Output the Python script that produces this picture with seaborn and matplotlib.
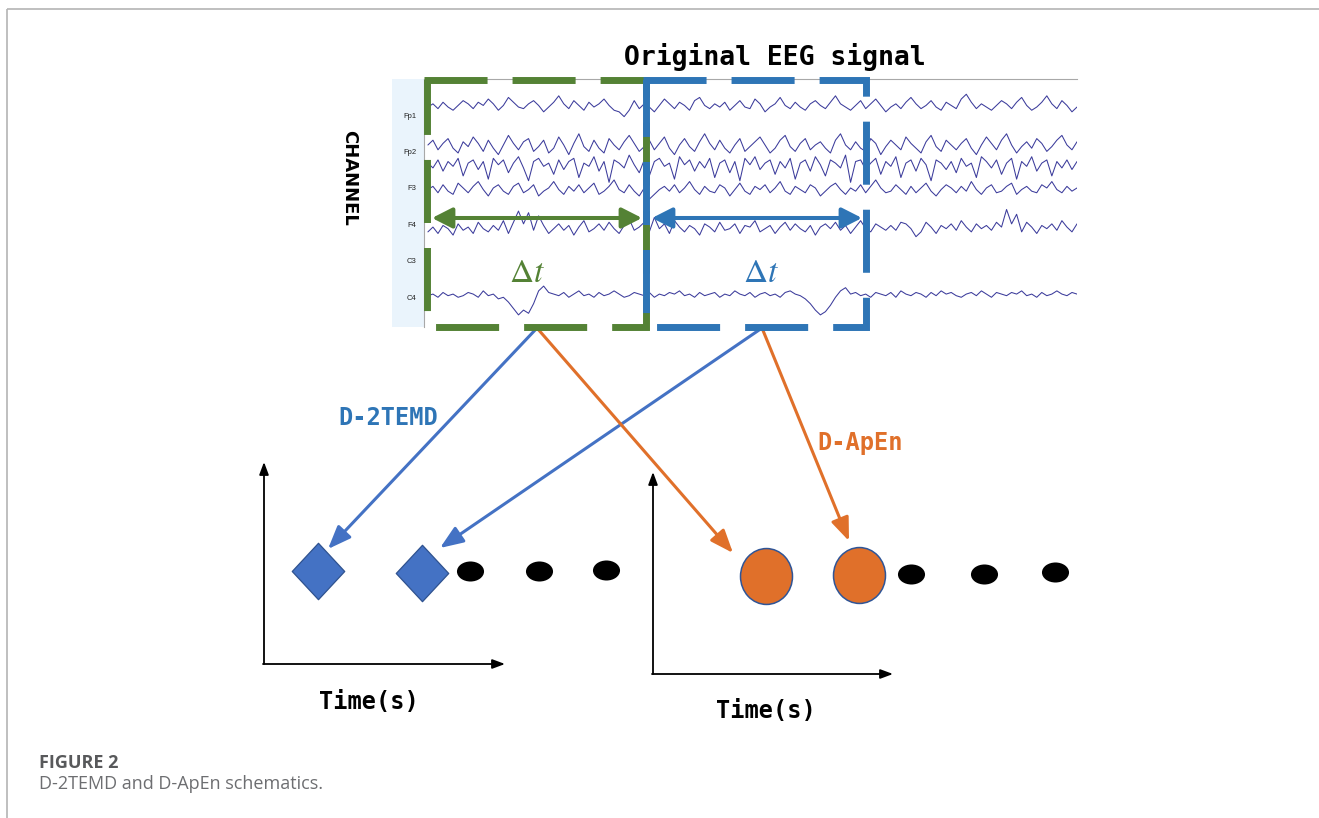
import numpy as np
import pandas as pd
import matplotlib
matplotlib.use("Agg")
import matplotlib.pyplot as plt
import seaborn as sns
from matplotlib.path import Path
from matplotlib.transforms import Affine2D
from matplotlib.lines import Line2D
from matplotlib.patches import Rectangle

# ------------------------------------------------------------------ data
channels = ["Fp1", "Fp2", "F3", "F4", "C3", "C4"]

eeg_fp1 = [0, 2, -1, 3, 0, -2, 1, 4, 2, -1, 3, 1, 5, 2, -2, 1, 6, 3, 0, -1,
           2, 4, 1, -3, 0, 3, 7, 2, -1, 4, 1, -2, 3, 0, 2, 5, 1, -2, -3, -6,
           -2, 4, -1, 2, 0, -3, 1, 5, 2, -1, 3, 1, -2, 4, 6, 1, -1, 2, 0, 3,
           -2, 1, 4, 0, -1, 5, 2, -3, 0, 2, 6, 1, -1, 3, 0, -2, 2, 4, 1, -1,
           3, 7, 2, 0, -2, 1, 4, -1, 2, 5, 1, -3, 0, 2, -1, 3, 6, 2, -1, 1,
           4, 0, -2, 3, 1, -1, 5, 8, 3, -1, 2, 0, -2, 1, 4, 2, -1, 3, 6, 1,
           -2, 0, 3, 7, 2, -1, 4, 1, -3, 0]
eeg_fp2a = [2, 5, -1, 3, 6, 0, -3, 4, 1, 7, 3, -2, 5, 0, -4, 2, 8, 3, -1, 4,
            6, -2, 1, 5, -3, 0, 7, 2, -4, 3, 9, 1, -2, 5, 0, -3, 6, 2, -1, 4,
            8, 3, -2, 1, 5, -1, 3, 7, 0, -4, 2, 6, 1, -2, 4, 9, 3, -1, 5, 0,
            -3, 2, 6, -2, 1, 4, 7, 2, -3, 0, 5, 8, 1, -2, 3, 6, -1, 2, 4, 0,
            -3, 5, 9, 2, -1, 4, 0, -2, 6, 3, -4, 1, 5, 2, -1, 7, 3, 0, -3, 4,
            8, 1, -2, 5, 2, -1, 3, 6, 0, -4, 2, 7, 3, -1, 5, 9, 2, -3, 1, 4,
            0, 6, 3, -2, 1, 5, 8, 2, -1, 4]
eeg_fp2b = [0, -3, 2, -5, 1, -2, 3, -8, 0, 2, -4, 1, -10, 3, -1, 2, -6, 0, 4, -3,
            -11, 1, 3, -2, 0, -7, 2, -4, 1, 3, -9, 0, -2, 4, -5, 1, -12, 2, 0, -3,
            5, -1, -6, 2, -8, 1, 3, -2, 0, -10, 4, -1, 2, -5, 1, -3, 3, -9, 0, 2,
            -6, 1, -11, 3, -1, 4, -4, 0, 2, -7, 1, -3, 3, -10, 0, 2, -5, 4, -1, -8,
            2, 0, -3, 5, -12, 1, 2, -4, 0, 3, -7, 1, -2, 4, -9, 0, 2, -5, 3, -1,
            -11, 2, 0, -4, 1, -6, 3, -2, 0, -9, 4, 1, -3, 2, -7, 0, 3, -10, 1, -2,
            4, -5, 0, 2, -8, 1, -3, 2, -4, 1]
eeg_f3 = [1, 3, -1, 4, 0, -2, 5, 2, -1, 3, 6, 1, -3, 2, 4, 0, -2, 3, 5, -1,
          1, 4, -3, 0, 2, 6, 1, -2, 3, 0, 4, -1, 2, 5, -2, 0, 3, 7, 1, -1,
          4, 0, -3, 2, -5, -2, 1, 3, 0, 4, -1, 2, 6, 1, -2, 3, 0, -1, 4, 2,
          -3, 1, 5, 0, -2, 3, 1, 4, -1, 2, 6, 0, -2, 3, 1, -1, 4, 2, -3, 0,
          3, 5, 1, -2, 2, 0, 4, -1, 3, 7, 2, -1, 0, 4, 1, -2, 3, -1, 2, 5,
          0, -3, 1, 4, 2, -1, 3, 0, 6, 1, -2, 2, 4, -1, 0, 3, 5, -2, 1, 3,
          0, -1, 4, 2, 6, 1, -1, 3, 0, 2]
eeg_f4 = [-2, 1, -3, 2, 0, -4, 3, -1, 1, -3, 4, 0, -2, 2, -1, 5, -3,
          4, 11, 3, 10, -1, 8, 2,
          -3, 0, 3, -1, 2, -4, 1, 5, -2, 0, 3, -1, 4, 0, -3, 2, 6, -1, 1, 4,
          -2, 7, 0, 3, -3, 5, 1, -2, 2, 0, -4, 3, 1, -2, 4, -1, 0, 3, -3, 2,
          1, 5, -2, 0, 2, -3, 1, 4, -1, 3, 0, -2, 2, -4, 1, 3, 0, 4, -1, 2,
          -3, 1, 5, 0, -2, 3, 1, -1, 2, -1, 4, 3, 0, -5, -2, 4, 1, -3, 2, 0,
          3, -1, 5, 1, -2, 3, 0,
          2, -1, 4, 1, 12, 3, 9, -2, 4, 1, -3, 2, 0, 3, -1, 5, 1, -2, 3]
eeg_c4 = [0, 1, -1, 2, 0, 1, -1, 0, 2, 1, -1, 3, 0, 1, -2,
          -1, -4, -8, -12, -9, -11, -5, 3, 6, 2,
          1, 0, 2, -1, 1, 3, 0, 1, -1, 2, 0, 1, 3, 1, -1, 0, 2, 1, 0, 2,
          -1, 1, 0, 2, 1, 3, 0, 1, -1, 2, 0, 1, 2, -1, 1, 0, 3, 1, 0, 2,
          -1, 1, 2, 0, 1, -1, 2, 3, 1, 0,
          -2, -5, -9, -12, -10, -6, -1, 3, 5, 1,
          2, 0, 1, -1, 2, 1, 0, 2, -1, 3, 1, 0, 2, 1, -1, 2, 0, 3, 1, 2,
          0, -1, 1, 2, 0, 3, 1, -1, 2, 1, 0, 2, 1, 3, 0, 1, -1, 2, 0, 1,
          3, 1, 0, 2, 1]

trace_names = ["Fp1", "Fp2 a", "Fp2 b", "F3", "F4", "C4"]
trace_values = [eeg_fp1, eeg_fp2a, eeg_fp2b, eeg_f3, eeg_f4, eeg_c4]

title_text = "Original EEG signal"
window_text = r"$\Delta t$"
method_names = ["D-2TEMD", "D-ApEn"]
time_label = "Time(s)"
caption_head = "FIGURE 2"
caption_body = "D-2TEMD and D-ApEn schematics."

# lower-left panel (D-2TEMD results along time)
temd_time = [1.08, 3.16]
temd_value = [1.86, 1.82]
temd_more_time = [4.12, 5.50, 6.84]
temd_more_value = [1.86, 1.86, 1.88]
# lower-right panel (D-ApEn results along time)
apen_time = [2.26, 4.12]
apen_value = [1.96, 1.98]
apen_more_time = [5.16, 6.62, 8.04]
apen_more_value = [2.00, 2.00, 2.04]

# ------------------------------------------------------------------ style
sns.set_theme(style="white")
plt.rcParams["font.family"] = ["DejaVu Sans"]

GREEN = "#548235"
BLUE_BOX = "#2e75b6"
BLUE = "#4472c4"
ORANGE = "#e0702a"
TRACE = "#3b3b9b"

W, H = 1319, 818
fig = plt.figure(figsize=(W / 100, H / 100), dpi=100)
fig.patch.set_facecolor("white")


def px_axes(x0, y0, x1, y1):
    return fig.add_axes([x0 / W, 1 - y1 / H, (x1 - x0) / W, (y1 - y0) / H])


# background layer
bg = px_axes(0, 0, W, H)
bg.set_xlim(0, W)
bg.set_ylim(H, 0)
bg.axis("off")
bg.set_zorder(0)
bg.plot([7, W], [9, 9], color="#b4b4b4", lw=1.2, solid_capstyle="butt")
bg.plot([7, 7], [9, H], color="#b4b4b4", lw=1.2, solid_capstyle="butt")
bg.add_patch(Rectangle((392, 79), 32, 248, facecolor="#eaf4fc", edgecolor="none"))

# ------------------------------------------------------------------ EEG panel
eeg = px_axes(424, 79, 1077, 327)
eeg.set_zorder(1)
eeg.patch.set_alpha(0)
ROW_PX = 36.4
GAIN = 1.6
trace_rows = [-0.22, 0.91, 1.32, 2.09, 3.12, 4.96]
frames = []
for name, row, vals in zip(trace_names, trace_rows, trace_values):
    v = np.asarray(vals, dtype=float)
    frames.append(pd.DataFrame({
        "t": np.linspace(0.006, 1.0, len(v)),
        "y": row - v * GAIN / ROW_PX,
        "trace": name,
    }))
df = pd.concat(frames, ignore_index=True)
sns.lineplot(data=df, x="t", y="y", units="trace", estimator=None, sort=False,
             color=TRACE, lw=0.75, ax=eeg, legend=False)
eeg.set_xlim(0, 1)
eeg.set_ylim(5.82, -0.99)
eeg.set_xticks([])
eeg.set_yticks(range(len(channels)))
eeg.set_yticklabels(channels, fontsize=5.5, family=["Liberation Sans", "DejaVu Sans"],
                    color="#222222")
eeg.tick_params(axis="y", length=0, pad=5.5)
eeg.set_xlabel("")
eeg.set_ylabel("")
for side in ("right", "bottom"):
    eeg.spines[side].set_visible(False)
for side in ("left", "top"):
    eeg.spines[side].set_color("#a8a8a8")
    eeg.spines[side].set_linewidth(0.8)

# ------------------------------------------------------------------ lower panels
axL = px_axes(264, 414, 664, 664)
axR = px_axes(653, 424, 1103, 674)
for ax in (axL, axR):
    ax.set_xlim(0, 8 if ax is axL else 9)
    ax.set_ylim(0, 5)
    ax.axis("off")
    ax.set_zorder(2)
    ax.patch.set_alpha(0)

axis_arrow = dict(arrowstyle="-|>,head_length=0.75,head_width=0.28", lw=1.3,
                  color="black", shrinkA=0, shrinkB=0, mutation_scale=10)
axL.annotate("", xy=(0, 4.04), xytext=(0, 0), arrowprops=axis_arrow, annotation_clip=False)
axL.annotate("", xy=(4.82, 0), xytext=(-0.02, 0), arrowprops=axis_arrow, annotation_clip=False)
axR.annotate("", xy=(0, 4.04), xytext=(0, 0), arrowprops=axis_arrow, annotation_clip=False)
axR.annotate("", xy=(4.80, 0), xytext=(-0.02, 0), arrowprops=axis_arrow, annotation_clip=False)

diamond = Path([(0, 1), (0.93, 0), (0, -1), (-0.93, 0), (0, 1)],
               [Path.MOVETO, Path.LINETO, Path.LINETO, Path.LINETO, Path.CLOSEPOLY])
big_circle = Path.unit_circle().transformed(Affine2D().scale(0.93, 1.0))
dot = Path.unit_circle().transformed(Affine2D().scale(1.0, 0.74))

sns.scatterplot(x=temd_time, y=temd_value, marker=diamond, s=1650, color=BLUE,
                edgecolor="#2f528f", linewidth=0.9, ax=axL, clip_on=False, zorder=3,
                legend=False)
sns.scatterplot(x=temd_more_time, y=temd_more_value, marker=dot, s=380, color="black",
                edgecolor="black", linewidth=0, ax=axL, clip_on=False, zorder=3,
                legend=False)
sns.scatterplot(x=apen_time, y=apen_value, marker=big_circle, s=1620, color="#e0702a",
                edgecolor="#2f5597", linewidth=1.1, ax=axR, clip_on=False, zorder=3,
                legend=False)
sns.scatterplot(x=apen_more_time, y=apen_more_value, marker=dot, s=380, color="black",
                edgecolor="black", linewidth=0, ax=axR, clip_on=False, zorder=3,
                legend=False)

# ------------------------------------------------------------------ overlay layer
top = px_axes(0, 0, W, H)
top.set_xlim(0, W)
top.set_ylim(H, 0)
top.axis("off")
top.set_zorder(10)
top.patch.set_alpha(0)

# connecting arrows
conn = dict(arrowstyle="-|>,head_length=1.4,head_width=0.55", lw=2.2,
            shrinkA=0, shrinkB=0, mutation_scale=10)
top.annotate("", xy=(328, 549), xytext=(537, 328), arrowprops=dict(conn, color=BLUE))
top.annotate("", xy=(440, 548), xytext=(762, 328), arrowprops=dict(conn, color=BLUE))
top.annotate("", xy=(733, 553), xytext=(537, 328), arrowprops=dict(conn, color=ORANGE))
top.annotate("", xy=(849, 541), xytext=(762, 328), arrowprops=dict(conn, color=ORANGE))

# window double arrows
dbl = dict(arrowstyle="<|-|>,head_length=1.22,head_width=0.62", lw=2.9,
           shrinkA=0, shrinkB=0, mutation_scale=10)
top.annotate("", xy=(642, 218), xytext=(432, 218), arrowprops=dict(dbl, color=GREEN))
top.annotate("", xy=(862, 218), xytext=(652, 218), arrowprops=dict(dbl, color=BLUE_BOX))

# dashed window boxes
box_lw = 5.0
dash = (0, (45.4 / box_lw, 18.0 / box_lw))
for (x0, x1), col in (((427, 646), GREEN), ((646, 866), BLUE_BOX)):
    line = Line2D([x0 - 3.5, x1, x1, x0, x0], [80, 80, 327, 327, 80], color=col,
                  lw=box_lw, linestyle=dash, dash_joinstyle="miter",
                  dash_capstyle="butt", zorder=5)
    top.add_line(line)

# texts
mono = ["DejaVu Sans Mono"]
top.text(775, 65, title_text, ha="center", va="baseline", fontsize=19,
         family=mono, fontweight="bold", color="black")
top.text(349, 178, "CHANNEL", rotation=-90, ha="center", va="center",
         fontsize=13, fontweight="bold", color="black")
top.text(527, 282, window_text, ha="center", va="baseline", fontsize=24,
         color=GREEN, math_fontfamily="stix")
top.text(761, 282, window_text, ha="center", va="baseline", fontsize=24,
         color=BLUE_BOX, math_fontfamily="stix")
top.text(388, 425, method_names[0], ha="center", va="baseline", fontsize=17,
         family=mono, fontweight="bold", color=BLUE_BOX)
top.text(860, 450, method_names[1], ha="center", va="baseline", fontsize=17,
         family=mono, fontweight="bold", color=ORANGE)
top.text(369, 709, time_label, ha="center", va="baseline", fontsize=17,
         family=mono, fontweight="bold", color="black")
top.text(766, 718, time_label, ha="center", va="baseline", fontsize=17,
         family=mono, fontweight="bold", color="black")
top.text(39, 768, caption_head, ha="left", va="baseline", fontsize=13,
         family=["Open Sans", "DejaVu Sans"], fontweight="bold", color="#58595b")
top.text(39, 789, caption_body, ha="left", va="baseline", fontsize=13,
         family=["Open Sans", "DejaVu Sans"], color="#6d6e71")

fig.savefig("out.png", dpi=100, facecolor="white")
